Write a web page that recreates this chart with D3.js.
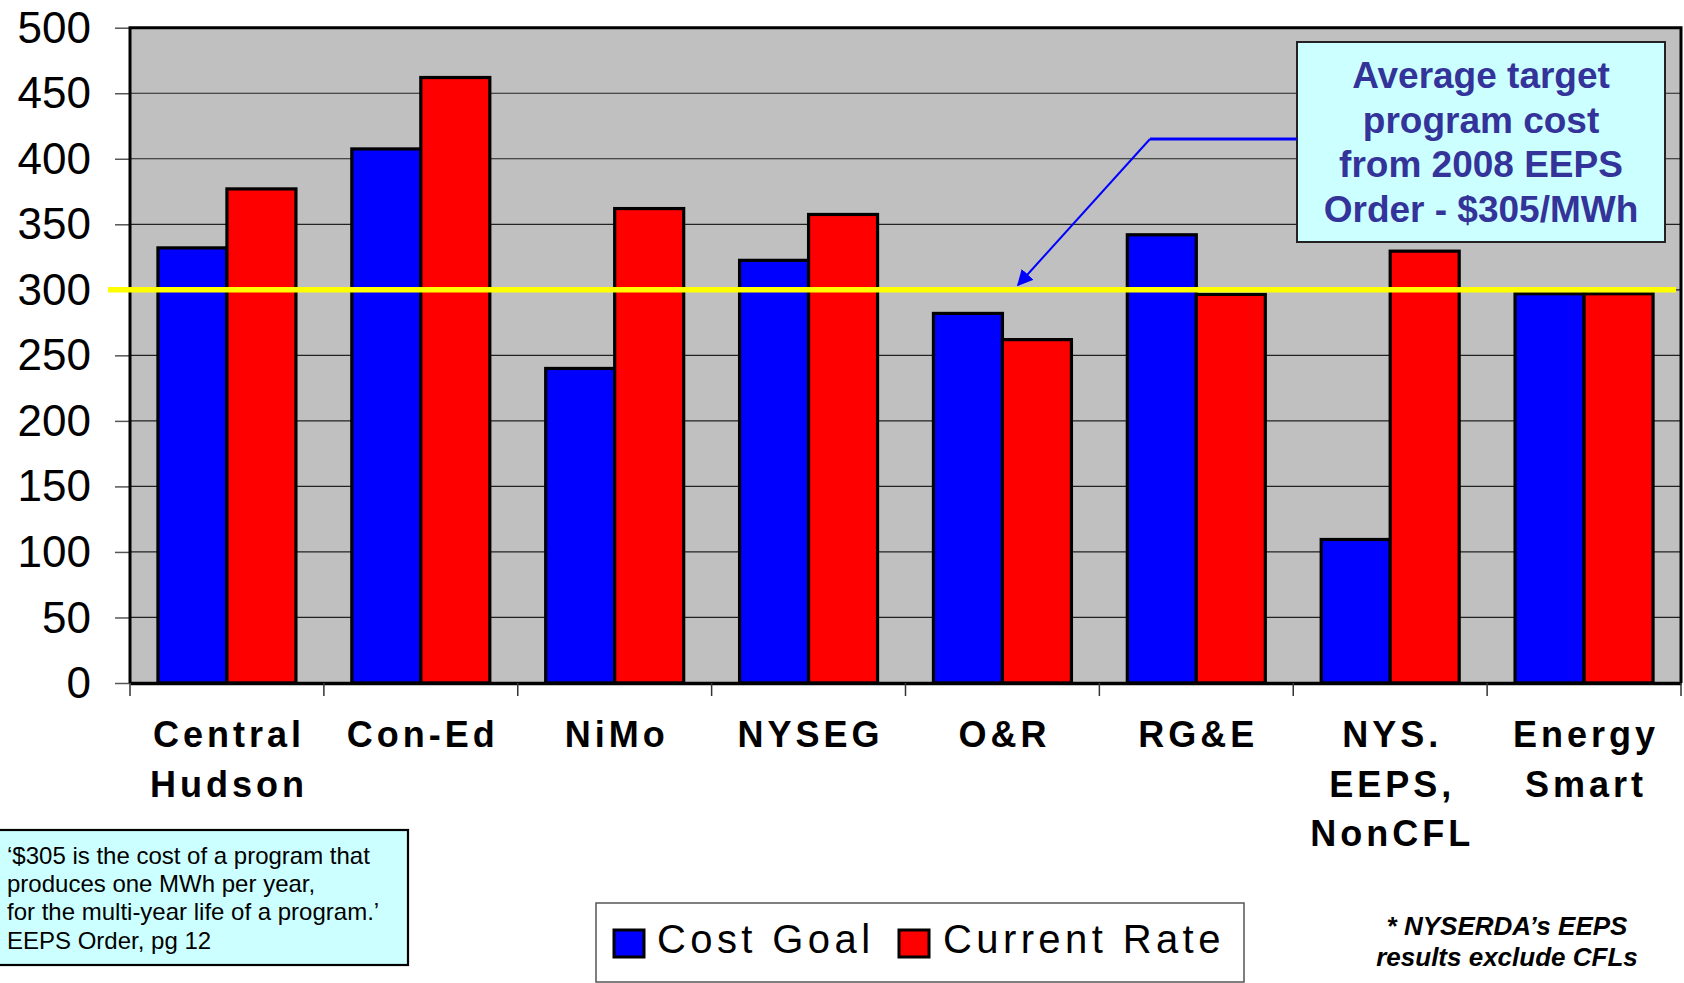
<!DOCTYPE html>
<html>
<head>
<meta charset="utf-8">
<script src="https://cdn.jsdelivr.net/npm/d3@7"></script>
<style>
  html, body { margin: 0; padding: 0; background: #ffffff; }
  svg { display: block; }
  text { font-family: "Liberation Sans", Arial, sans-serif; }
</style>
</head>
<body>
<svg id="chart" width="1684" height="983"></svg>
<script>
// ---- data ----
const categories = ["Central Hudson", "Con-Ed", "NiMo", "NYSEG", "O&R", "RG&E", "NYS. EEPS, NonCFL", "Energy Smart"];
const categoryLines = [["Central", "Hudson"], ["Con-Ed"], ["NiMo"], ["NYSEG"], ["O&R"], ["RG&E"], ["NYS.", "EEPS,", "NonCFL"], ["Energy", "Smart"]];
const seriesNames = ["Cost Goal", "Current Rate"];
const costGoal = [332, 407.5, 240, 322.5, 282, 342, 109.5, 297];
const currentRate = [377, 462, 362, 357.5, 262, 296.5, 329.5, 297];
const targetValue = 300;
const yTicks = [0, 50, 100, 150, 200, 250, 300, 350, 400, 450, 500];
const seriesColors = ["#0000FF", "#FF0000"];
const calloutLines = ["Average target", "program cost", "from 2008 EEPS", "Order - $305/MWh"];
const quoteLines = ["\u2018$305 is the cost of a program that", "produces one MWh per year,", "for the multi-year life of a program.\u2019", "EEPS Order, pg 12"];
const footLines = ["* NYSERDA\u2019s EEPS", "results exclude CFLs"];

// ---- layout ----
const svg = d3.select("#chart");
const plot = { left: 130, right: 1681, top: 27.7, bottom: 683 };

const x0 = d3.scaleBand().domain(categories).range([plot.left, plot.right]).padding(0);
const x1 = d3.scaleBand().domain(seriesNames).range([0, x0.bandwidth()]).paddingInner(0).paddingOuter(0.405);
const y = d3.scaleLinear().domain([0, 500]).range([plot.bottom, plot.top]);
const color = d3.scaleOrdinal().domain(seriesNames).range(seriesColors);

// plot background
svg.append("rect")
  .attr("x", plot.left).attr("y", plot.top)
  .attr("width", plot.right - plot.left).attr("height", plot.bottom - plot.top)
  .attr("fill", "#C0C0C0");

// gridlines
svg.append("g")
  .selectAll("line")
  .data(yTicks.filter(d => d > 0 && d < 500))
  .join("line")
  .attr("x1", plot.left).attr("x2", plot.right)
  .attr("y1", d => y(d)).attr("y2", d => y(d))
  .attr("stroke", "#222").attr("stroke-width", 1.2);

// y axis
const yAxis = d3.axisLeft(y).tickValues(yTicks).tickSize(15).tickPadding(24).tickFormat(d3.format("d"));
const gy = svg.append("g").attr("transform", `translate(${plot.left},0)`).call(yAxis);
gy.select(".domain").remove();
gy.selectAll(".tick line").attr("stroke", "#555").attr("stroke-width", 1.5);
gy.selectAll(".tick text")
  .attr("font-size", 44).attr("fill", "#000")
  .attr("font-family", "Liberation Sans, Arial, sans-serif")
  .attr("dy", "0.33em");

// bars
const rows = categories.map((c, i) => ({ cat: c, values: [costGoal[i], currentRate[i]] }));
const groups = svg.append("g").selectAll("g")
  .data(rows).join("g")
  .attr("transform", d => `translate(${x0(d.cat)},0)`);
groups.selectAll("rect")
  .data(d => d.values.map((v, k) => ({ key: seriesNames[k], value: v })))
  .join("rect")
  .attr("x", d => x1(d.key))
  .attr("y", d => y(d.value))
  .attr("width", x1.bandwidth())
  .attr("height", d => y(0) - y(d.value))
  .attr("fill", d => color(d.key))
  .attr("stroke", "#000").attr("stroke-width", 3.2);

// plot frame (top, left, right)
svg.append("path")
  .attr("d", `M${plot.left},${plot.bottom} V${plot.top} H${plot.right} V${plot.bottom}`)
  .attr("fill", "none").attr("stroke", "#000").attr("stroke-width", 3);

// x axis
const xAxis = d3.axisBottom(x0).tickSize(0).tickFormat("");
const gx = svg.append("g").attr("transform", `translate(0,${plot.bottom})`).call(xAxis);
gx.select(".domain").attr("stroke", "#000").attr("stroke-width", 3.5);
gx.selectAll(".tick").remove();
const boundaries = categories.map(c => x0(c)).concat([plot.right]);
gx.selectAll("line.bt").data(boundaries).join("line")
  .attr("class", "bt")
  .attr("x1", d => d).attr("x2", d => d)
  .attr("y1", 0).attr("y2", 13)
  .attr("stroke", "#333").attr("stroke-width", 1.5);

// category labels
const lab = svg.append("g").selectAll("text")
  .data(categories).join("text")
  .attr("x", d => x0(d) + x0.bandwidth() / 2 + 2)
  .attr("y", 747)
  .attr("text-anchor", "middle")
  .attr("font-size", 36).attr("font-weight", "bold")
  .attr("letter-spacing", 4)
  .attr("fill", "#000");
lab.each(function(d, i) {
  const t = d3.select(this);
  categoryLines[i].forEach((ln, j) => {
    t.append("tspan").attr("x", x0(d) + x0.bandwidth() / 2 + 2).attr("dy", j === 0 ? 0 : 49.5).text(ln);
  });
});

// target line
svg.append("line")
  .attr("x1", 108).attr("x2", 1676)
  .attr("y1", y(targetValue)).attr("y2", y(targetValue))
  .attr("stroke", "#FFFF00").attr("stroke-width", 5.5);

// callout box
const box = { x: 1297, y: 42, w: 368, h: 200 };
svg.append("rect")
  .attr("x", box.x).attr("y", box.y).attr("width", box.w).attr("height", box.h)
  .attr("fill", "#CCFFFF").attr("stroke", "#222").attr("stroke-width", 2);
svg.append("g").selectAll("text")
  .data(calloutLines).join("text")
  .attr("x", box.x + box.w / 2)
  .attr("y", (d, i) => 88 + i * 44.7)
  .attr("text-anchor", "middle")
  .attr("font-size", 37).attr("font-weight", "bold")
  .attr("fill", "#333399")
  .text(d => d);

// arrow
const defs = svg.append("defs");
defs.append("marker")
  .attr("id", "arrowhead")
  .attr("viewBox", "0 0 10 10")
  .attr("refX", 9).attr("refY", 5)
  .attr("markerWidth", 8).attr("markerHeight", 8)
  .attr("markerUnits", "strokeWidth")
  .attr("orient", "auto")
  .append("path").attr("d", "M0,0 L10,5 L0,10 Z").attr("fill", "#0000FF");
svg.append("line")
  .attr("x1", box.x).attr("x2", 1150)
  .attr("y1", 139).attr("y2", 139)
  .attr("stroke", "#0000FF").attr("stroke-width", 3.2);
svg.append("line")
  .attr("x1", 1150).attr("y1", 139)
  .attr("x2", 1018).attr("y2", 285)
  .attr("stroke", "#0000FF").attr("stroke-width", 2)
  .attr("marker-end", "url(#arrowhead)");

// quote box (bottom left)
svg.append("rect")
  .attr("x", -2).attr("y", 830).attr("width", 410).attr("height", 135)
  .attr("fill", "#CCFFFF").attr("stroke", "#000").attr("stroke-width", 2.2);
svg.append("g").selectAll("text")
  .data(quoteLines).join("text")
  .attr("x", 7)
  .attr("y", (d, i) => 864 + i * 28.2)
  .attr("font-size", 24)
  .attr("fill", "#000")
  .text(d => d);

// legend
const leg = svg.append("g");
leg.append("rect")
  .attr("x", 596).attr("y", 903).attr("width", 648).attr("height", 79)
  .attr("fill", "#fff").attr("stroke", "#555").attr("stroke-width", 1.5);
const legX = [614, 899];
const legTextX = [657, 943];
seriesNames.forEach((s, i) => {
  leg.append("rect")
    .attr("x", legX[i]).attr("y", 930).attr("width", 30).attr("height", 27)
    .attr("fill", color(s)).attr("stroke", "#000").attr("stroke-width", 3);
  leg.append("text")
    .attr("x", legTextX[i]).attr("y", 953)
    .attr("font-size", 40).attr("letter-spacing", 4.4)
    .attr("fill", "#000")
    .text(s);
});

// footnote right
svg.append("g").selectAll("text")
  .data(footLines).join("text")
  .attr("x", 1507)
  .attr("y", (d, i) => 935 + i * 31)
  .attr("text-anchor", "middle")
  .attr("font-size", 26).attr("font-weight", "bold").attr("font-style", "italic")
  .attr("fill", "#000")
  .text(d => d);
</script>
</body>
</html>
